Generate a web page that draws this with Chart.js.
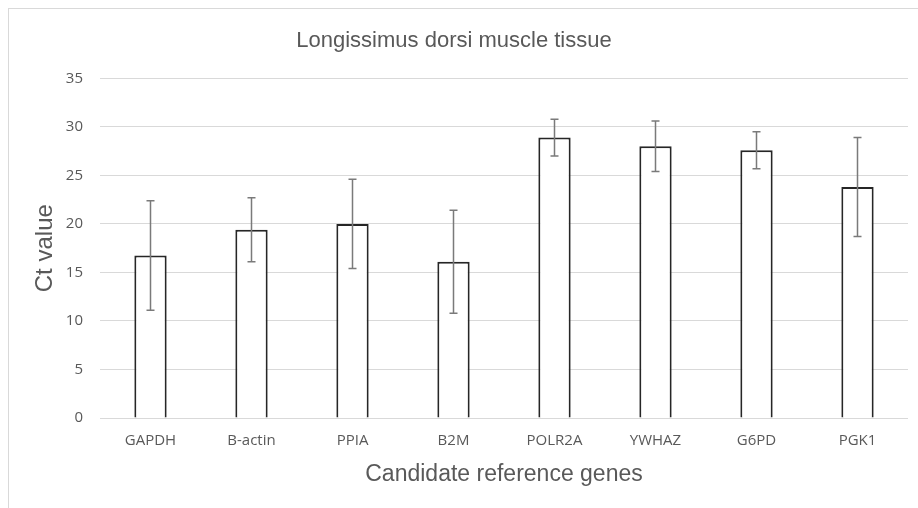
<!DOCTYPE html>
<html>
<head>
<meta charset="utf-8">
<script src="https://cdn.jsdelivr.net/npm/chart.js@4.4.0/dist/chart.umd.min.js"></script>
<style>
  body { margin: 0; background: white; overflow: hidden; }
  .caixa { position: relative; width: 918px; height: 508px; }
  .moldura { position: absolute; left: 8px; top: 8px; width: 1000px; height: 600px; border: 1px solid #d9d9d9; }
  canvas { position: absolute; left: 0; top: 0; }
</style>
</head>
<body>
<div class="caixa">
  <div class="moldura"></div>
  <canvas id="myChart" width="918" height="508"></canvas>
</div>
<script>
// data
let genes = ['GAPDH', 'B-actin', 'PPIA', 'B2M', 'POLR2A', 'YWHAZ', 'G6PD', 'PGK1']
let ct_medio = [16.75, 19.4, 20.0, 16.1, 28.9, 28.0, 27.6, 23.8]
let desvio = [5.65, 3.3, 4.6, 5.3, 1.9, 2.6, 1.9, 5.1]
let ticks_y = [0, 5, 10, 15, 20, 25, 30, 35]

let cinza = '#595959'

// error bars, drawn with the chart's own scales
const barrasErro = {
  id: 'barrasErro',
  afterDatasetsDraw(chart) {
    let ctx = chart.ctx
    let x = chart.scales.x
    let y = chart.scales.y
    ctx.save()
    ctx.strokeStyle = '#7a7a7a'
    ctx.lineWidth = 1.5
    for (let i = 0; i < genes.length; i++) {
      let px = x.getPixelForValue(i)
      let topo = y.getPixelForValue(ct_medio[i] + desvio[i])
      let base = y.getPixelForValue(ct_medio[i] - desvio[i])
      ctx.beginPath()
      ctx.moveTo(px, topo)
      ctx.lineTo(px, base)
      ctx.moveTo(px - 4, topo)
      ctx.lineTo(px + 4, topo)
      ctx.moveTo(px - 4, base)
      ctx.lineTo(px + 4, base)
      ctx.stroke()
    }
    ctx.restore()
  }
}

var data = {
  labels: genes,
  datasets: [{
    data: ct_medio,
    backgroundColor: 'white',
    borderColor: '#262626',
    borderWidth: 2,
    barPercentage: 0.32,
    categoryPercentage: 1
  }]
}

const config = {
  type: 'bar',
  data: data,
  options: {
    responsive: false,
    animation: false,
    layout: { padding: { left: 0, right: 10, top: 0, bottom: 0 } },
    plugins: {
      legend: { display: false },
      tooltip: { enabled: false },
      title: {
        display: true,
        text: 'Longissimus dorsi muscle tissue',
        color: cinza,
        font: { family: 'Liberation Sans', size: 22, weight: 'normal' },
        padding: { top: 28, bottom: 24 }
      }
    },
    scales: {
      x: {
        grid: { display: false, drawTicks: false },
        border: { display: false },
        ticks: {
          color: cinza,
          padding: 14,
          font: { family: 'Open Sans', size: 15 }
        },
        title: {
          display: true,
          text: 'Candidate reference genes',
          color: cinza,
          font: { family: 'Liberation Sans', size: 23 },
          padding: { top: 0, bottom: 20 }
        },
        afterFit: function (scale) { scale.height = 90 }
      },
      y: {
        min: 0,
        max: 35,
        afterBuildTicks: function (scale) {
          scale.ticks = ticks_y.map(v => ({ value: v }))
        },
        grid: { color: '#d9d9d9', lineWidth: 1, drawTicks: false },
        border: { display: false },
        ticks: {
          color: cinza,
          padding: 17,
          font: { family: 'Open Sans', size: 15 }
        },
        title: {
          display: true,
          text: 'Ct value',
          color: cinza,
          font: { family: 'Liberation Sans', size: 24 },
          padding: { top: 31, bottom: 0 }
        },
        afterFit: function (scale) { scale.width = 100 }
      }
    }
  },
  plugins: [barrasErro]
}

const myChart = new Chart(document.getElementById('myChart'), config)
</script>
</body>
</html>
